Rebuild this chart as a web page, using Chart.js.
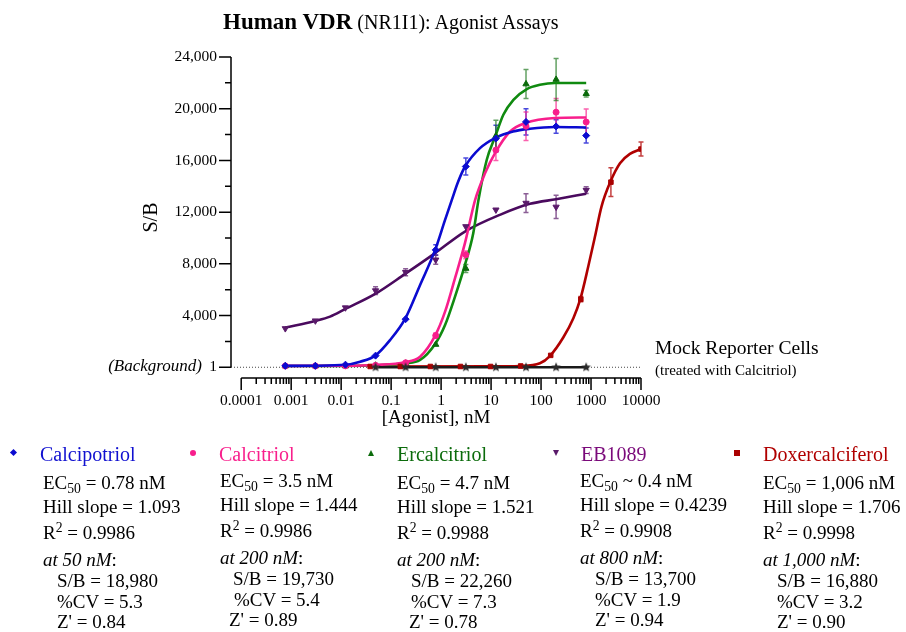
<!DOCTYPE html>
<html>
<head>
<meta charset="utf-8">
<script src="https://cdn.jsdelivr.net/npm/chart.js@4.4.1/dist/chart.umd.min.js"></script>
<style>
  body { margin: 0; background: #fff; }
  #wrap { position: relative; width: 906px; height: 632px; font-family: "Liberation Serif", "Times New Roman", serif; color: #000; }
  #wrap canvas { position: absolute; left: 0; top: 0; }
  .t { position: absolute; white-space: nowrap; line-height: 20px; font-size: 19px; }
  .t sub { font-size: 0.72em; vertical-align: -0.32em; line-height: 0; }
  .t sup { font-size: 0.72em; vertical-align: 0.5em; line-height: 0; }
  .mk { position: absolute; }
</style>
</head>
<body>
<div id="wrap">
  <canvas id="chart" width="906" height="632"></canvas>
  <div class="t" style="left:223px;top:9px;line-height:26px"><b style="font-size:23px">Human VDR</b><span style="font-size:20px"> (NR1I1): Agonist Assays</span></div>
  <div class="t" style="left:0;width:202px;text-align:right;top:356px;font-size:17px;font-style:italic">(Background)</div>
  <div class="t" style="left:655px;top:338px;font-size:19.5px">Mock Reporter Cells</div>
  <div class="t" style="left:655px;top:360px;font-size:15px">(treated with Calcitriol)</div>
  <div id="legend"></div>
</div>
<script>
// concentrations (nM)
const conc = [0.000763, 0.00305, 0.0122, 0.0488, 0.195, 0.781, 3.125, 12.5, 50, 200, 800];
const concDox = [0.0381, 0.153, 0.610, 2.44, 9.77, 39.1, 156, 625, 2500, 10000];
const concMock = [0.0488, 0.195, 0.781, 3.125, 12.5, 50, 200, 800];

// measured S/B and error
const calcipotriol = [110, 110, 200, 900, 3720, 9080, 15530, 17700, 18980, 18630, 17920];
const calcipotriolErr = [40, 40, 50, 100, 150, 400, 650, 1030, 1010, 520, 580];
const calcitriol = [100, 100, 110, 150, 350, 2450, 8700, 16800, 18650, 19730, 18970];
const calcitriolErr = [30, 30, 30, 40, 60, 200, 300, 800, 1100, 1060, 1000];
const ercalcitriol = [100, 100, 100, 150, 300, 1760, 7640, 17900, 21910, 22260, 21160];
const ercalcitriolErr = [30, 30, 30, 40, 60, 150, 300, 1200, 1120, 1620, 260];
const eb1089 = [3000, 3600, 4610, 5930, 7350, 8310, 10890, 12180, 12700, 12400, 13700];
const eb1089Err = [170, 180, 120, 300, 280, 350, 150, 150, 720, 900, 260];
const doxercalciferol = [60, 60, 60, 60, 60, 100, 920, 5265, 14320, 16880];
const doxercalciferolErr = [20, 20, 20, 20, 20, 30, 120, 200, 1110, 540];
const mock = [1, 1, 1, 1, 1, 1, 1, 1];

// fitted curves
const fitCalcipotriolX = [0.000763, 0.003, 0.0122, 0.024, 0.048, 0.095, 0.19, 0.38, 0.76, 1.2, 1.64, 2.2, 3.02, 6.0, 12, 27.5, 60, 190, 800];
const fitCalcipotriolY = [110, 120, 190, 430, 900, 2100, 3740, 6370, 9080, 11400, 12950, 14370, 15530, 16950, 17730, 18240, 18450, 18580, 18550];
const fitCalcitriolX = [0.000763, 0.012, 0.048, 0.19, 0.38, 0.76, 1.2, 1.9, 3.0, 4.8, 7.6, 12, 24, 48, 190, 800];
const fitCalcitriolY = [110, 120, 180, 390, 820, 2450, 4300, 6900, 9600, 12950, 15020, 16570, 18240, 18890, 19280, 19320];
const fitErcalcitriolX = [0.000763, 0.012, 0.048, 0.19, 0.38, 0.76, 1.2, 1.9, 3.0, 4.4, 5.6, 8.2, 12, 17.6, 28, 52, 95, 190, 800];
const fitErcalcitriolY = [100, 110, 160, 310, 565, 1800, 3270, 5470, 7920, 10370, 12950, 16050, 17800, 19530, 20690, 21520, 21850, 21990, 21990];
const fitEb1089X = [0.000763, 0.003, 0.006, 0.012, 0.048, 0.19, 0.76, 3.0, 15, 60, 200, 800];
const fitEb1089Y = [3070, 3585, 3920, 4500, 5675, 7220, 8830, 10500, 11790, 12640, 13000, 13420];
const fitDoxX = [0.0381, 9.8, 38, 95, 150, 278, 443, 610, 880, 1200, 1620, 2450, 3800, 6000, 10000];
const fitDoxY = [60, 70, 100, 310, 870, 2300, 3800, 5265, 7790, 10110, 12430, 14370, 15790, 16510, 16880];

// axes
const xDecades = [0.0001, 0.001, 0.01, 0.1, 1, 10, 100, 1000, 10000];
const yTicks = [1, 4000, 8000, 12000, 16000, 20000, 24000];
const yMinor = [2000, 6000, 10000, 14000, 18000, 22000];
const xMin = 6.25e-5, xMax = 10000, yMin = -830, yMax = 24000;
const background = 1;

// legend text
const compounds = ['Calcipotriol', 'Calcitriol', 'Ercalcitriol', 'EB1089', 'Doxercalciferol'];
const ec50Text = ['= 0.78 nM', '= 3.5 nM', '= 4.7 nM', '~ 0.4 nM', '= 1,006 nM'];
const hillSlopes = ['1.093', '1.444', '1.521', '0.4239', '1.706'];
const rSquared = ['0.9986', '0.9986', '0.9988', '0.9908', '0.9998'];
const atConc = ['50 nM', '200 nM', '200 nM', '800 nM', '1,000 nM'];
const sbValues = ['18,980', '19,730', '22,260', '13,700', '16,880'];
const cvValues = ['5.3', '5.4', '7.3', '1.9', '3.2'];
const zPrime = ['0.84', '0.89', '0.78', '0.94', '0.90'];

const lineColors = ['#0b0bd0', '#f81e8c', '#108a10', '#4a0a5e', '#b00000'];
const textColors = ['#1010d0', '#f8208c', '#0b6b0b', '#7a0a7a', '#b00000'];
const pointColors = ['#0b0bd0', '#f81e8c', '#0b6b0b', '#5a1a6a', '#aa0000'];
const errColors = ['rgba(11,11,208,0.75)', 'rgba(248,30,140,0.7)', 'rgba(16,110,16,0.65)', 'rgba(90,26,106,0.7)', 'rgba(176,0,0,0.75)'];

const FONT = '"Liberation Serif", "Times New Roman", serif';
Chart.defaults.font.family = FONT;
Chart.defaults.color = '#000';

function starImage(r, color) {
  const c = document.createElement('canvas');
  c.width = c.height = 2 * r + 2;
  const g = c.getContext('2d');
  g.fillStyle = color;
  g.beginPath();
  for (let i = 0; i < 10; i++) {
    const rad = i % 2 ? r * 0.45 : r;
    const a = -Math.PI / 2 + i * Math.PI / 5;
    g.lineTo(r + 1 + rad * Math.cos(a), r + 1 + rad * Math.sin(a));
  }
  g.closePath();
  g.fill();
  return c;
}

const pts = (xs, ys) => xs.map((x, i) => ({x: x, y: ys[i]}));

function pointSet(xs, ys, errs, i, style, radius, rotation) {
  return {
    data: pts(xs, ys), errors: errs, errorColor: errColors[i],
    showLine: false, pointStyle: style, pointRadius: radius, rotation: rotation || 0,
    pointBackgroundColor: pointColors[i], pointBorderColor: pointColors[i], pointBorderWidth: 1
  };
}
function curveSet(xs, ys, color) {
  return {
    data: pts(xs, ys), borderColor: color, borderWidth: 2.6, pointRadius: 0,
    cubicInterpolationMode: 'monotone', fill: false
  };
}

const errorBars = {
  id: 'errorBars',
  beforeDatasetsDraw(chart) {
    const {ctx, scales: {x, y}} = chart;
    ctx.save();
    ctx.lineWidth = 1.5;
    chart.data.datasets.forEach(ds => {
      if (!ds.errors) return;
      ctx.strokeStyle = ds.errorColor;
      ds.data.forEach((p, j) => {
        const e = ds.errors[j];
        const px = x.getPixelForValue(p.x);
        const top = y.getPixelForValue(p.y + e), bot = y.getPixelForValue(p.y - e);
        if (bot - top < 5) return;
        ctx.beginPath();
        ctx.moveTo(px, top); ctx.lineTo(px, bot);
        ctx.moveTo(px - 2.5, top); ctx.lineTo(px + 2.5, top);
        ctx.moveTo(px - 2.5, bot); ctx.lineTo(px + 2.5, bot);
        ctx.stroke();
      });
    });
    ctx.restore();
  }
};

const axisLines = {
  id: 'axisLines',
  afterDraw(chart) {
    const {ctx, chartArea, scales: {x, y}} = chart;
    const ax = chartArea.left, by = chartArea.bottom;
    ctx.save();
    ctx.strokeStyle = '#000';
    ctx.lineWidth = 1.5;
    ctx.beginPath();
    // y axis
    ctx.moveTo(ax, y.getPixelForValue(yMax));
    ctx.lineTo(ax, y.getPixelForValue(background));
    yTicks.forEach(v => { const p = y.getPixelForValue(v); ctx.moveTo(ax - 12, p); ctx.lineTo(ax, p); });
    yMinor.forEach(v => { const p = y.getPixelForValue(v); ctx.moveTo(ax - 6, p); ctx.lineTo(ax, p); });
    // x axis
    ctx.moveTo(x.getPixelForValue(xDecades[0]), by);
    ctx.lineTo(x.getPixelForValue(xDecades[xDecades.length - 1]), by);
    xDecades.forEach((d, k) => {
      const p = x.getPixelForValue(d);
      ctx.moveTo(p, by); ctx.lineTo(p, by + 12);
      if (k < xDecades.length - 1) {
        for (let m = 2; m <= 9; m++) {
          const q = x.getPixelForValue(d * m);
          ctx.moveTo(q, by); ctx.lineTo(q, by + 6);
        }
      }
    });
    ctx.stroke();
    ctx.restore();
  }
};

const datasets = [
  pointSet(concMock, mock, null, 0, starImage(5, '#2a2a2a'), 5),
  pointSet(conc, calcipotriol, calcipotriolErr, 0, 'rectRot', 3.5),
  pointSet(conc, calcitriol, calcitriolErr, 1, 'circle', 3),
  pointSet(conc, ercalcitriol, ercalcitriolErr, 2, 'triangle', 3.6),
  pointSet(conc, eb1089, eb1089Err, 3, 'triangle', 3.6, 180),
  pointSet(concDox, doxercalciferol, doxercalciferolErr, 4, 'rect', 3.2),
  curveSet(concMock, mock, '#1a1a1a'),
  curveSet(fitCalcipotriolX, fitCalcipotriolY, lineColors[0]),
  curveSet(fitCalcitriolX, fitCalcitriolY, lineColors[1]),
  curveSet(fitErcalcitriolX, fitErcalcitriolY, lineColors[2]),
  curveSet(fitEb1089X, fitEb1089Y, lineColors[3]),
  curveSet(fitDoxX, fitDoxY, lineColors[4]),
  {
    data: [{x: xMin, y: background}, {x: xMax, y: background}],
    borderColor: '#444', borderWidth: 1, borderDash: [1, 2], pointRadius: 0
  }
];

new Chart(document.getElementById('chart'), {
  type: 'line',
  data: {datasets: datasets},
  options: {
    responsive: false,
    animation: false,
    layout: {padding: {left: 0, top: 57, right: 265, bottom: 200}},
    plugins: {legend: {display: false}, tooltip: {enabled: false}},
    scales: {
      x: {
        type: 'logarithmic', min: xMin, max: xMax,
        grid: {display: false, drawTicks: false}, border: {display: false},
        afterBuildTicks: s => { s.ticks = xDecades.map(v => ({value: v, major: true})); },
        afterFit: s => { s.height = 54; },
        ticks: {autoSkip: false, maxRotation: 0, padding: 14, color: '#000', font: {size: 15.5}, callback: v => String(v)},
        title: {display: true, text: '[Agonist], nM', color: '#000', font: {size: 19}, padding: {top: 0, bottom: 3}}
      },
      y: {
        type: 'linear', min: yMin, max: yMax,
        grid: {display: false, drawTicks: false}, border: {display: false},
        afterBuildTicks: s => { s.ticks = yTicks.map(v => ({value: v})); },
        afterFit: s => { s.width = 231; },
        ticks: {padding: 14, color: '#000', font: {size: 15.5}, callback: v => v.toLocaleString('en-US')},
        title: {display: true, text: 'S/B', color: '#000', font: {size: 20}, padding: {top: 140, bottom: 0}}
      }
    }
  },
  plugins: [errorBars, axisLines]
});

// legend block below the chart
const markerX = [14, 193, 371, 556, 737];
const nameX = [40, 219, 397, 581, 763];
const textX = [43, 220, 397, 580, 763];
const sbX = [57, 233, 411, 595, 777];
const cvX = [57, 234, 411, 595, 777];
const zX = [57, 229, 409, 595, 777];
const colDy = [0, -2, 0, -2, 0];
const markerCss = [
  'width:5px;height:5px;transform:rotate(45deg);',
  'width:6px;height:6px;border-radius:50%;',
  'width:0;height:0;border-left:3.5px solid transparent;border-right:3.5px solid transparent;border-bottom:6px solid COLOR;background:none!important;',
  'width:0;height:0;border-left:3.5px solid transparent;border-right:3.5px solid transparent;border-top:6px solid COLOR;background:none!important;',
  'width:6px;height:6px;'
];
let html = '';
compounds.forEach((name, i) => {
  const d = colDy[i];
  html += `<div class="mk" style="left:${markerX[i] - 3}px;top:450px;background:${pointColors[i]};${markerCss[i].replace('COLOR', pointColors[i])}"></div>`;
  html += `<div class="t" style="left:${nameX[i]}px;top:444px;font-size:20px;color:${textColors[i]}">${name}</div>`;
  html += `<div class="t" style="left:${textX[i]}px;top:${473 + d}px">EC<sub>50</sub> ${ec50Text[i]}</div>`;
  html += `<div class="t" style="left:${textX[i]}px;top:${497 + d}px">Hill slope = ${hillSlopes[i]}</div>`;
  html += `<div class="t" style="left:${textX[i]}px;top:${523 + d}px">R<sup>2</sup> = ${rSquared[i]}</div>`;
  html += `<div class="t" style="left:${textX[i]}px;top:${550 + d}px"><i>at ${atConc[i]}</i>:</div>`;
  html += `<div class="t" style="left:${sbX[i]}px;top:${571 + d}px">S/B = ${sbValues[i]}</div>`;
  html += `<div class="t" style="left:${cvX[i]}px;top:${592 + d}px">%CV = ${cvValues[i]}</div>`;
  html += `<div class="t" style="left:${zX[i]}px;top:${612 + d}px">Z' = ${zPrime[i]}</div>`;
});
document.getElementById('legend').innerHTML = html;
</script>
</body>
</html>
